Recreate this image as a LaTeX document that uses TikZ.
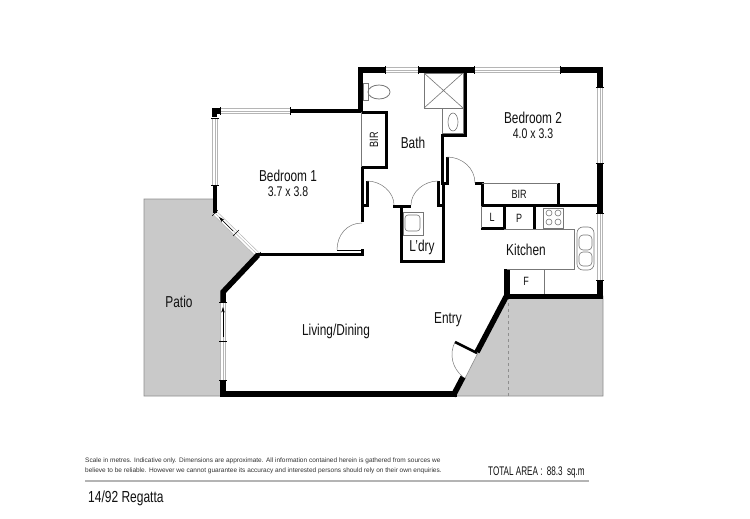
\documentclass[tikz,border=0pt]{standalone}
\usepackage{fontspec}
\usepackage{xcolor}
\setmainfont[FakeStretch=0.75]{Liberation Sans}
\newfontfamily\notefont{Liberation Sans}
\newfontfamily\areafont[FakeStretch=0.65]{Liberation Sans}
\usetikzlibrary{arrows.meta}
\usetikzlibrary{calc}
\definecolor{patiogray}{HTML}{C9C9C9}
\definecolor{edgegray}{HTML}{8E8E8E}
\definecolor{fitgray}{HTML}{777777}
\definecolor{panegray}{HTML}{B5B5B5}
\definecolor{rulegray}{HTML}{B4B4B4}
\definecolor{inkblack}{HTML}{111111}
\definecolor{notegray}{HTML}{333333}
\begin{document}
\begin{tikzpicture}[x=1pt, y=-1pt,
            every node/.style={text=inkblack, inner sep=0mm, font=\fontsize{15.8}{15.8}\selectfont},
            wallouter/.style={draw=black, line width=5.5pt, line cap=butt, line join=miter},
            wallinner/.style={draw=black, line width=3pt, line cap=butt, line join=miter},
            wallside/.style={draw=black, line width=4.5pt, line cap=butt, line join=miter},
            fitting/.style={draw=fitgray, line width=0.6pt},
            swing/.style={draw=fitgray, line width=0.5pt},
            smalllabel/.style={font=\fontsize{12}{12}\selectfont},
            sizelabel/.style={font=\fontsize{14}{14}\selectfont},
            notelabel/.style={anchor=west, text=notegray, font=\notefont\fontsize{6.5}{6.5}\selectfont},
            >={Stealth[length=2mm, width=1.2mm]}]
            \useasboundingbox (0,0) rectangle (750,519);
            \fill[white] (0,0) rectangle (750,519);
            \filldraw[fill=patiogray, draw=edgegray, line width=0.6pt] (215,199) -- (144,199) -- (144,396) -- (221,396) -- (221,292) -- (258,255) -- (215,213) -- cycle;
            \filldraw[fill=patiogray, draw=edgegray, line width=0.6pt] (507,296) -- (603,296) -- (603,396) -- (456,396) -- cycle;
            \fill[white] (223,292) -- (258,255) -- (215,213) -- (219,209) -- (262,252) -- (226,294) -- cycle;
            \draw[edgegray, dashed, line width=0.5pt] (508,297) -- (508,396);
            \foreach \ax/\ay/\bx/\by in {385/70/418/70, 474/70/560/70, 600/87/600/163, 600/213/600/280, 220/111/290/111, 215/118/215/185, 215/213/258/255, 223/302/223/380} {
                \draw[panegray, line width=0.6pt, double=white, double distance=4pt] (\ax,\ay) -- (\bx,\by);
                \draw[panegray, line width=0.5pt] (\ax,\ay) -- (\bx,\by);
                \draw[black, line width=0.5pt] ($(\ax,\ay)!4pt!90:(\bx,\by)$) -- ($(\ax,\ay)!4pt!-90:(\bx,\by)$);
                \draw[black, line width=0.5pt] ($(\bx,\by)!4pt!90:(\ax,\ay)$) -- ($(\bx,\by)!4pt!-90:(\ax,\ay)$);
            }
            \draw[black, line width=0.5pt] (219,341) -- (227,341);
            \draw[black, line width=0.5pt] (233,236) -- (239,230);
            \draw[black, line width=0.5pt, ->] (223,337) -- (223,307);
            \draw[black, line width=0.5pt, ->] (233,231) -- (219,217);
            \draw[wallside] (360.5,112) -- (360.5,70);
            \draw[wallouter] (358,70) -- (385,70);
            \draw[wallouter] (418,70) -- (474,70);
            \draw[wallouter] (560,70) -- (600,70) -- (600,87);
            \draw[wallouter] (600,163) -- (600,213);
            \draw[wallouter] (600,280) -- (600,296.5) -- (507,296.5) -- (507,269);
            \draw[wallouter] (507,295) -- (477,352);
            \draw[wallouter] (463,377) -- (453,396);
            \draw[wallouter] (457,394) -- (223,394) -- (223,380);
            \draw[wallouter] (223,302) -- (223,292) -- (258,255);
            \draw[wallside] (215,185) -- (215,213);
            \draw[wallside] (290,111) -- (362,111);
            \fill[black] (212,108) rectangle (220,117);
            \fill[white] (217,114) rectangle (220,117);
            \draw[wallinner] (256,254) -- (363.5,254);
            \draw[wallinner] (362,255.5) -- (362,249);
            \draw[black, line width=0.9pt] (337,250) -- (361,250);
            \draw[wallinner] (362,112) -- (386,112) -- (386,167) -- (362,167) -- (362,222);
            \draw[wallinner] (362,205.5) -- (367,205.5) -- (367,181);
            \draw[wallinner] (393,206) -- (411,206);
            \draw[wallinner] (401,206) -- (401,261) -- (443,261) -- (443,182);
            \draw[wallinner] (438,181) -- (438,205.5) -- (443,205.5);
            \draw[wallinner] (465,70) -- (465,135) -- (442,135) -- (442,183) -- (447,183) -- (447,157);
            \draw[wallinner] (475,183) -- (482,183) -- (482,205) -- (600,205);
            \draw[wallinner] (558,183) -- (558,205);
            \draw[wallinner] (481,228) -- (504,228) -- (504,205);
            \draw[wallinner] (534,205) -- (534,229);
            \draw[line width=2.5pt] (455,342) -- (477,353);
            \draw[fitting] (361,112) -- (361,167);
            \draw[fitting] (482,183) -- (558,183);
            \draw[fitting] (481,206) -- (481,228);
            \draw[fitting] (504,229.5) -- (574,229.5) -- (574,269) -- (507,269);
            \draw[fitting] (544,269) -- (544,294);
            \draw[fitting] (424,73) rectangle (463,108);
            \draw[fitting] (424,73) -- (463,108) (463,73) -- (424,108);
            \draw[fitting] (442,108) rectangle (463,133);
            \draw[fitting] (453,122) ellipse (5 and 9);
            \draw[fitting] (363,83) rectangle (368,100);
            \draw[fitting, line width=0.8pt] (379,92) ellipse (11 and 7);
            \draw[fitting] (403,212) rectangle (423,235);
            \draw[fitting, rounded corners=3pt] (405,215) rectangle (420,231);
            \draw[fitting] (543,208) rectangle (563,228);
            \foreach \hx in {549,558} {
                \foreach \hy in {213,222} {
                    \draw[fitting] (\hx,\hy) circle (3);
                }
            }
            \draw[fitting, rounded corners=6pt] (577,227) rectangle (594,270);
            \draw[fitting, rounded corners=4pt] (579,235) rectangle (592,250);
            \draw[fitting, rounded corners=4pt] (579,252) rectangle (592,266);
            \draw[swing] (337,250) .. controls (337,235) and (347,223) .. (362,223);
            \draw[swing] (367,181) .. controls (381,181) and (394,192) .. (394,205);
            \draw[swing] (438,181) .. controls (424,181) and (411,192) .. (411,205);
            \draw[swing] (447,157) .. controls (462,157) and (475,168) .. (475,183);
            \draw[swing] (455,342) .. controls (449,354) and (452,368) .. (463,377);
            \node at (288,176) (bedroomone) {Bedroom 1};
            \node[sizelabel] at (288,192) (bedroomonesize) {3.7 x 3.8};
            \node at (533,118) (bedroomtwo) {Bedroom 2};
            \node[sizelabel] at (533,134) (bedroomtwosize) {4.0 x 3.3};
            \node[smalllabel, rotate=90] at (374,140) (birone) {BIR};
            \node at (413,143) (bath) {Bath};
            \node[smalllabel] at (519,194) (birtwo) {BIR};
            \node at (422,247) (laundry) {L'dry};
            \node[smalllabel] at (492,217) (larder) {L};
            \node[smalllabel] at (519,218) (pantry) {P};
            \node[smalllabel] at (526,281) (fridge) {F};
            \node at (526,250) (kitchen) {Kitchen};
            \node at (179,302) (patio) {Patio};
            \node at (448,320) (entry) {Entry};
            \node at (336,331) (living) {Living/Dining};
            \node[notelabel] at (85,461) (noteone) {Scale in metres. Indicative only. Dimensions are approximate. All information contained herein is gathered from sources we};
            \node[notelabel] at (85,471) (notetwo) {believe to be reliable. However we cannot guarantee its accuracy and interested persons should rely on their own enquiries.};
            \node[anchor=west, font=\areafont\fontsize{12.5}{12.5}\selectfont] at (488,472) (area) {TOTAL AREA :\,\ 88.3\,\ sq.m};
            \draw[rulegray, line width=1.5pt] (85,481) -- (589,481);
            \node[anchor=west, font=\fontsize{16}{16}\selectfont] at (88,498) (address) {14/92 Regatta};
        \end{tikzpicture}
\end{document}
